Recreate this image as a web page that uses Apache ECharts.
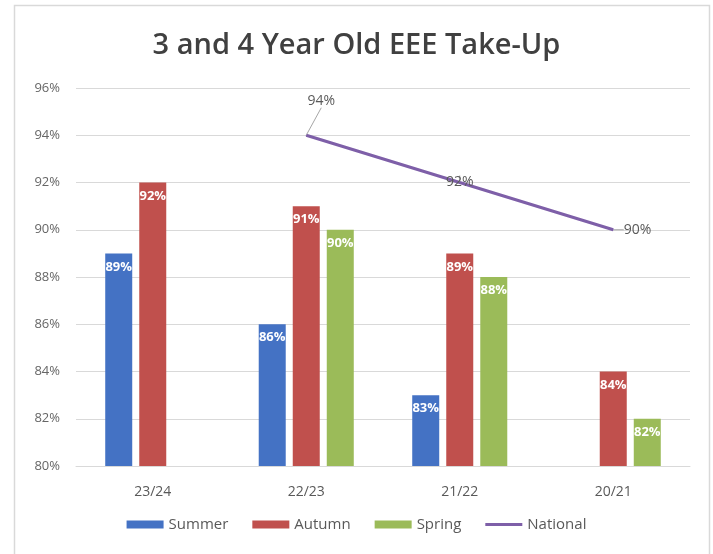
<!DOCTYPE html>
<html>
<head>
<meta charset="utf-8">
<script src="https://cdn.jsdelivr.net/npm/echarts@6/dist/echarts.min.js"></script>
<style>
html,body{margin:0;padding:0;background:#fff;}
#chart{width:713px;height:554px;}
</style>
</head>
<body>
<div id="chart"></div>
<script>
var categories = ['23/24', '22/23', '21/22', '20/21'];
var summer = [89, 86, 83, null];
var autumn = [92, 91, 89, 84];
var spring = [null, 90, 88, 82];
var national = [null, 94, 92, 90];
var yTicks = [80, 82, 84, 86, 88, 90, 92, 94, 96];

var chart = echarts.init(document.getElementById('chart'));
var font = '"Open Sans", "Noto Sans", sans-serif';
var barLabel = {
  show: true, position: 'insideTop', distance: 7, color: '#ffffff',
  fontSize: 13, fontWeight: 'bold', fontFamily: font,
  formatter: function (p) { return p.value + '%'; }
};
function barSeries(name, data, color) {
  return {
    name: name, type: 'bar', data: data, barWidth: 27, barGap: '26%',
    itemStyle: { color: color }, label: barLabel
  };
}
var natPositions = ['top', 'top', 'inside', 'right'];
var natData = national.map(function (v, i) {
  return { value: v, label: { position: natPositions[i] } };
});

chart.setOption({
  backgroundColor: '#ffffff',
  animation: false,
  graphic: [{
    type: 'rect', shape: { x: 14.5, y: 5.5, width: 695, height: 560 },
    style: { fill: 'none', stroke: '#d9d9d9', lineWidth: 1.5 }, silent: true
  }],
  title: {
    text: '3 and 4 Year Old EEE Take-Up', left: 'center', top: 26,
    textStyle: { fontFamily: font, fontSize: 29, fontWeight: 600, color: '#404040' }
  },
  legend: {
    bottom: 17, left: 'center', itemWidth: 37, itemHeight: 8, itemGap: 24,
    textStyle: { fontFamily: font, fontSize: 15, color: '#595959' },
    data: [
      { name: 'Summer', icon: 'rect' },
      { name: 'Autumn', icon: 'rect' },
      { name: 'Spring', icon: 'rect' },
      { name: 'National', icon: 'path://M0,0 L37,0 L37,3 L0,3 Z' }
    ]
  },
  grid: { left: 76, right: 23, top: 88, bottom: 88 },
  xAxis: {
    type: 'category', data: categories,
    axisLine: { lineStyle: { color: '#d9d9d9', width: 1 } },
    axisTick: { show: false },
    axisLabel: { fontFamily: font, fontSize: 14, color: '#595959', margin: 19 }
  },
  yAxis: {
    type: 'value', min: yTicks[0], max: yTicks[yTicks.length - 1], interval: 2,
    axisLine: { show: false }, axisTick: { show: false },
    splitLine: { lineStyle: { color: '#d9d9d9', width: 1 } },
    axisLabel: { fontFamily: font, fontSize: 13, color: '#666666', margin: 16,
      formatter: function (v) { return v + '%'; } }
  },
  series: [
    barSeries('Summer', summer, '#4472C4'),
    barSeries('Autumn', autumn, '#C0504D'),
    barSeries('Spring', spring, '#9BBB59'),
    {
      name: 'National', type: 'line', data: natData, symbol: 'circle', symbolSize: 1,
      lineStyle: { color: '#7E5FA8', width: 3 }, itemStyle: { color: '#7E5FA8' },
      label: { show: true, color: '#595959', fontSize: 14, fontFamily: font, distance: 10,
        formatter: function (p) { return p.value + '%'; } },
      labelLine: { show: true, lineStyle: { color: '#a6a6a6', width: 1 } },
      labelLayout: function (p) {
        if (p.dataIndex === 1) { return { dx: 15, dy: -17 }; }
        return {};
      }
    }
  ]
});
</script>
</body>
</html>
